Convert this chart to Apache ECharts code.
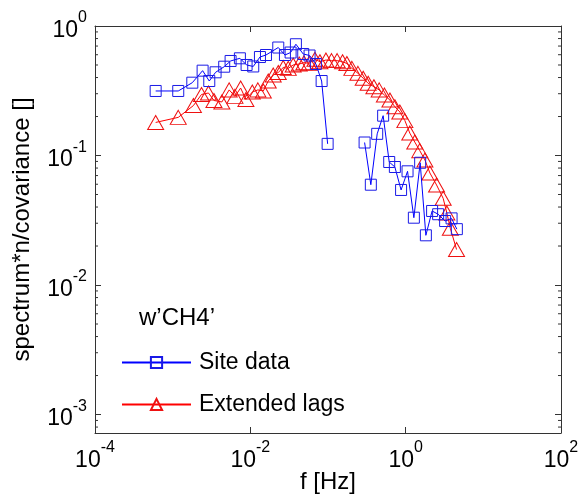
<!DOCTYPE html>
<html>
<head>
<meta charset="utf-8">
<script src="https://cdn.jsdelivr.net/npm/echarts@6/dist/echarts.min.js"></script>
<style>
  html, body { margin: 0; padding: 0; background: #fff; }
  #box { width: 580px; height: 496px; }
</style>
</head>
<body>
<div id="box"></div>
<script>
// frequencies [Hz] and normalised spectra
var siteF = [6.04e-4, 1.18e-3, 1.79e-3, 2.43e-3, 2.96e-3, 3.57e-3, 4.61e-3, 5.57e-3, 7.34e-3, 8.95e-3,
             1.09e-2, 1.33e-2, 1.59e-2, 2.29e-2, 2.79e-2, 3.30e-2, 3.86e-2, 4.80e-2, 5.79e-2, 6.98e-2,
             8.28e-2, 9.89e-2, 0.15, 0.296, 0.356, 0.430, 0.513, 0.614, 0.726, 0.873,
             1.057, 1.275, 1.537, 1.82, 2.19, 2.62, 3.22, 3.90, 4.56];
var siteV = [0.315, 0.315, 0.365, 0.452, 0.376, 0.439, 0.485, 0.537, 0.563, 0.500,
             0.487, 0.576, 0.597, 0.682, 0.597, 0.624, 0.723, 0.608, 0.592, 0.509,
             0.376, 0.123, null, 0.126, 0.0595, 0.147, 0.203, 0.0891, 0.0815, 0.0542,
             0.0755, 0.0331, 0.0879, 0.0242, 0.0373, 0.0352, 0.0312, 0.0327, 0.0270];

var lagF = [6.04e-4, 1.18e-3, 1.85e-3, 2.35e-3, 2.89e-3, 3.40e-3, 4.30e-3, 5.34e-3, 6.34e-3, 7.50e-3,
            8.77e-3, 1.06e-2, 1.25e-2, 1.47e-2, 1.70e-2, 1.97e-2, 2.29e-2, 2.65e-2, 3.08e-2, 3.56e-2,
            4.26e-2, 4.90e-2, 5.73e-2, 6.78e-2, 7.87e-2, 9.40e-2, 0.111, 0.131, 0.154, 0.175,
            0.203, 0.243, 0.284, 0.329, 0.390, 0.456, 0.532, 0.627, 0.726, 0.841,
            0.977, 1.13, 1.31, 1.52, 1.77, 2.05, 2.50, 3.04, 3.39, 3.76, 4.52];
var lagV = [0.180, 0.197, 0.243, 0.296, 0.304, 0.266, 0.259, 0.321, 0.286, 0.332,
            0.271, 0.309, 0.321, 0.315, 0.376, 0.418, 0.438, 0.478, 0.471, 0.500,
            0.509, 0.521, 0.515, 0.553, 0.530, 0.546, 0.540, 0.540, 0.530, 0.513,
            0.471, 0.431, 0.395, 0.361, 0.340, 0.321, 0.293, 0.268, 0.238, 0.217,
            0.186, 0.149, 0.127, 0.109, 0.0923, 0.0733, 0.0592, 0.0467, 0.0360, 0.0274, 0.0188];

var seriesNames = ['Site data', 'Extended lags'];
var xMin = 1e-4, xMax = 1e2;
var yMin = 7.2e-4, yMax = 1;

// minor ticks 2..9 of each decade on the y axis
var yMinor = [];
for (var e = -4; e < 0; e++) {
    for (var m = 2; m <= 9; m++) {
        var t = m * Math.pow(10, e);
        if (t > yMin && t < yMax) yMinor.push(t);
    }
}

function pairs(xs, ys) {
    return xs.map(function (x, i) { return [x, ys[i] === null ? '-' : ys[i]]; });
}

function powLabel(v) {
    var p = Math.round(Math.log(v) / Math.LN10);
    return '{b|10}{s|' + p + '}';
}

var axisFont = 'Liberation Sans';
var rich = {
    b: { fontFamily: axisFont, fontSize: 23, color: '#000', lineHeight: 32, verticalAlign: 'bottom' },
    s: { fontFamily: axisFont, fontSize: 16, color: '#000', lineHeight: 32, verticalAlign: 'top' }
};
var frameLine = { show: true, lineStyle: { color: '#333', width: 1 } };

var myChart = echarts.init(document.getElementById('box'));
var option = {
    animation: false,
    backgroundColor: '#fff',
    textStyle: { fontFamily: axisFont },
    grid: { left: 95, top: 26, right: 19, bottom: 63, containLabel: false, outerBoundsMode: 'none' },
    legend: {
        data: seriesNames,
        orient: 'vertical',
        left: 121,
        top: 351,
        padding: 0,
        itemWidth: 69,
        itemHeight: 14,
        itemGap: 19,
        textStyle: { fontFamily: axisFont, fontSize: 23, color: '#000', padding: [0, 0, 0, 3] }
    },
    graphic: [{
        type: 'text', left: 139, top: 306,
        style: { text: 'w\u2019CH4\u2019', fontFamily: axisFont, fontSize: 24, fill: '#000' }
    }],
    xAxis: [{
        type: 'log', logBase: 10, min: xMin, max: xMax, interval: 2,
        position: 'bottom',
        name: 'f [Hz]', nameLocation: 'middle', nameGap: 37, nameMoveOverlap: false,
        nameTextStyle: { fontFamily: axisFont, fontSize: 24, color: '#000' },
        axisLine: frameLine,
        axisTick: { inside: true, length: 6, lineStyle: { color: '#333' } },
        axisLabel: { margin: 7, formatter: powLabel, rich: rich },
        splitLine: { show: false }
    }, {
        type: 'log', logBase: 10, min: xMin, max: xMax, interval: 2,
        position: 'top',
        axisLine: frameLine,
        axisTick: { inside: true, length: 6, lineStyle: { color: '#333' } },
        axisLabel: { show: false },
        splitLine: { show: false }
    }],
    yAxis: [{
        type: 'log', logBase: 10, min: yMin, max: yMax, splitNumber: 3,
        position: 'left',
        name: 'spectrum*n/covariance []', nameLocation: 'middle', nameGap: 61, nameMoveOverlap: false,
        nameTextStyle: { fontFamily: axisFont, fontSize: 24, color: '#000' },
        axisLine: frameLine,
        axisTick: { inside: true, length: 6, lineStyle: { color: '#333' } },
        axisLabel: { margin: 8, formatter: powLabel, rich: rich, showMinLabel: false },
        splitLine: { show: false }
    }, {
        type: 'log', logBase: 10, min: yMin, max: yMax, splitNumber: 3,
        position: 'right',
        axisLine: frameLine,
        axisTick: { inside: true, length: 6, lineStyle: { color: '#333' } },
        axisLabel: { show: false },
        splitLine: { show: false }
    }],
    series: [
        {
            name: 'Site data',
            type: 'line',
            data: pairs(siteF, siteV),
            symbol: 'rect',
            symbolSize: 11,
            showAllSymbol: true,
            connectNulls: false,
            lineStyle: { color: '#0000ff', width: 1 },
            itemStyle: { color: 'rgba(0,0,0,0)', borderColor: '#1a1ae6', borderWidth: 1 },
            emphasis: { disabled: true },
            z: 3
        },
        {
            name: 'Extended lags',
            type: 'line',
            data: pairs(lagF, lagV),
            symbol: 'triangle',
            symbolSize: [16, 14],
            showAllSymbol: true,
            lineStyle: { color: '#ff0000', width: 1 },
            itemStyle: { color: 'rgba(0,0,0,0)', borderColor: '#ee1111', borderWidth: 1 },
            emphasis: { disabled: true },
            z: 2
        },
        {
            name: 'minor',
            type: 'custom',
            silent: true,
            data: yMinor.map(function (v) { return [xMin, v]; }),
            renderItem: function (params, api) {
                var l = api.coord([xMin, api.value(1)]);
                var r = api.coord([xMax, api.value(1)]);
                return {
                    type: 'group',
                    children: [
                        { type: 'line', shape: { x1: l[0], y1: l[1], x2: l[0] + 3, y2: l[1] }, style: { stroke: '#333', lineWidth: 1 } },
                        { type: 'line', shape: { x1: r[0], y1: r[1], x2: r[0] - 3, y2: r[1] }, style: { stroke: '#333', lineWidth: 1 } }
                    ]
                };
            },
            z: 1
        }
    ]
};

myChart.setOption(option, true);
</script>
</body>
</html>
